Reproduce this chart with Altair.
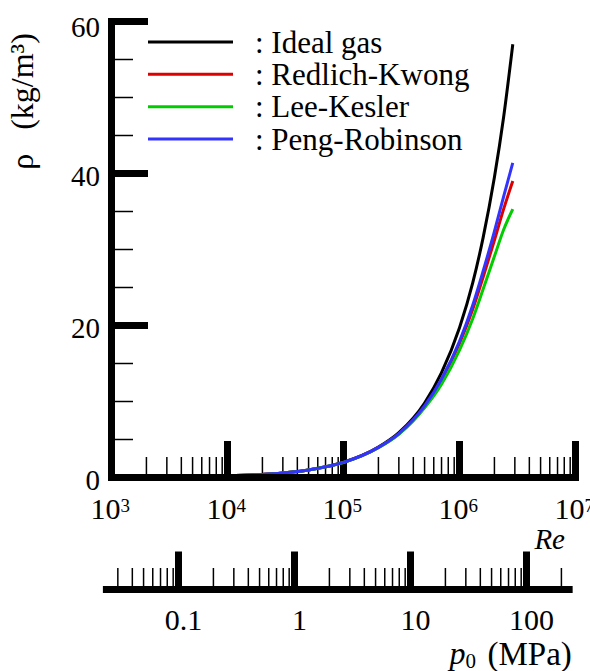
import altair as alt
import pandas as pd

# Reynolds numbers at which the density was sampled
re_samples = [1e4, 2e4, 5e4, 1e5, 2e5, 3e5, 5e5, 7e5, 1e6, 1.3e6, 1.6e6, 2e6, 2.4e6, 2.88e6]

# Density (kg/m^3) from each equation of state
rho_ideal = [0.2, 0.4, 1.0, 2.0, 4.0, 5.9, 9.8, 13.8, 19.7, 25.6, 31.6, 39.5, 47.4, 57.0]
rho_rk = [0.2, 0.4, 1.0, 1.99, 3.94, 5.75, 9.31, 12.83, 17.63, 22.14, 26.39, 31.21, 35.31, 39.0]
rho_lk = [0.2, 0.4, 1.0, 1.98, 3.92, 5.69, 9.16, 12.28, 16.75, 20.9, 24.8, 29.1, 32.6, 35.3]
rho_pr = [0.2, 0.4, 1.0, 1.99, 3.96, 5.78, 9.41, 12.97, 17.93, 22.66, 27.18, 32.39, 36.97, 41.4]

series_names = ["Ideal gas", "Redlich-Kwong", "Lee-Kesler", "Peng-Robinson"]
series_colors = ["#000000", "#dd0000", "#00cc00", "#3333ff"]

# Reynolds-number axis
re_major = [1e3, 1e4, 1e5, 1e6, 1e7]
re_exponent = ["3", "4", "5", "6", "7"]
re_minor = [m * 10.0 ** k for k in range(3, 7) for m in range(2, 10)]

# Density axis
rho_major = [0, 20, 40, 60]
rho_minor = [5, 10, 15, 25, 30, 35, 45, 50, 55]

# Supply-pressure axis (Re per MPa of p0)
RE_PER_MPA = 3.78e4
p_major = [0.1, 1, 10, 100]
p_major_text = ["0.1", "1", "10", "100"]
p_minor = [m * 10.0 ** k for k in range(-2, 2) for m in range(2, 10) if not (k == -2 and m < 3)] + [200]
p_line_ends = [0.0223, 250]

FONT = "Liberation Serif, Times New Roman, Times, serif"
W, H = 464, 456

x_re = alt.Scale(type="log", domain=[1e3, 1e7])
x_p = alt.Scale(type="log", domain=[1e3 / RE_PER_MPA, 1e7 / RE_PER_MPA])
y_rho = alt.Scale(domain=[0, 60])
color_scale = alt.Scale(domain=series_names, range=series_colors)

curves = pd.DataFrame(
    [
        {"Re": r, "rho": v, "series": name}
        for name, vals in zip(series_names, [rho_ideal, rho_rk, rho_lk, rho_pr])
        for r, v in zip(re_samples, vals)
    ]
)

lines = alt.Chart(curves).mark_line(strokeWidth=3, interpolate="monotone").encode(
    x=alt.X("Re:Q", scale=x_re, axis=None),
    y=alt.Y("rho:Q", scale=y_rho, axis=None),
    color=alt.Color("series:N", scale=color_scale, legend=None),
)

# Axis lines of the main plot
x_line = alt.Chart(pd.DataFrame({"Re": [re_major[0]], "Re2": [re_major[-1]], "rho": [0]})).mark_rule(
    strokeWidth=7, strokeCap="square", color="black"
).encode(
    x=alt.X("Re:Q", scale=x_re, axis=None), x2="Re2:Q", y=alt.Y("rho:Q", scale=y_rho, axis=None)
)
y_line = alt.Chart(pd.DataFrame({"Re": [re_major[0]], "rho": [0], "rho2": [60]})).mark_rule(
    strokeWidth=7, strokeCap="square", color="black"
).encode(
    x=alt.X("Re:Q", scale=x_re, axis=None), y=alt.Y("rho:Q", scale=y_rho, axis=None), y2="rho2:Q"
)

# Ticks pointing into the plot
re_major_df = pd.DataFrame({"Re": re_major, "base": ["10"] * len(re_major), "exp": re_exponent})
re_major_ticks = alt.Chart(re_major_df).mark_rule(strokeWidth=7, color="black").encode(
    x=alt.X("Re:Q", scale=x_re, axis=None), y=alt.value(H), y2=alt.value(H - 36.5)
)
re_minor_ticks = alt.Chart(pd.DataFrame({"Re": re_minor})).mark_rule(strokeWidth=1.5, color="black").encode(
    x=alt.X("Re:Q", scale=x_re, axis=None), y=alt.value(H), y2=alt.value(H - 20.5)
)
rho_major_df = pd.DataFrame({"rho": rho_major, "label": [str(v) for v in rho_major]})
rho_major_ticks = alt.Chart(rho_major_df).mark_rule(strokeWidth=7, color="black").encode(
    y=alt.Y("rho:Q", scale=y_rho, axis=None), x=alt.value(0), x2=alt.value(36.5)
)
rho_minor_ticks = alt.Chart(pd.DataFrame({"rho": rho_minor})).mark_rule(strokeWidth=1.5, color="black").encode(
    y=alt.Y("rho:Q", scale=y_rho, axis=None), x=alt.value(0), x2=alt.value(21.5)
)

# Tick labels (the top density label sits a little lower than the others)
def rho_label_layer(test, dy):
    return alt.Chart(rho_major_df).transform_filter(test).mark_text(
        align="right", baseline="middle", font=FONT, fontSize=29, dy=dy
    ).encode(
        y=alt.Y("rho:Q", scale=y_rho, axis=None),
        x=alt.value(-11.5),
        text="label:N",
    )

rho_labels = rho_label_layer("datum.rho < 60", 3)
rho_label_top = rho_label_layer("datum.rho == 60", 6)

re_base = alt.Chart(re_major_df).mark_text(
    align="right", baseline="alphabetic", font=FONT, fontSize=30, dx=9
).encode(x=alt.X("Re:Q", scale=x_re, axis=None), y=alt.value(H + 41.5), text="base:N")
re_exp = alt.Chart(re_major_df).mark_text(
    align="left", baseline="alphabetic", font=FONT, fontSize=19, dx=9
).encode(x=alt.X("Re:Q", scale=x_re, axis=None), y=alt.value(H + 34), text="exp:N")

# Secondary axis: supply pressure
P_Y = H + 112
p_line = alt.Chart(pd.DataFrame({"p": [p_line_ends[0]], "p2": [p_line_ends[1]]})).mark_rule(
    strokeWidth=7, color="black"
).encode(x=alt.X("p:Q", scale=x_p, axis=None), x2="p2:Q", y=alt.value(P_Y))
p_major_df = pd.DataFrame({"p": p_major, "label": p_major_text})
p_major_ticks = alt.Chart(p_major_df).mark_rule(strokeWidth=7, color="black").encode(
    x=alt.X("p:Q", scale=x_p, axis=None), y=alt.value(P_Y), y2=alt.value(P_Y - 38)
)
p_minor_ticks = alt.Chart(pd.DataFrame({"p": p_minor})).mark_rule(strokeWidth=1.5, color="black").encode(
    x=alt.X("p:Q", scale=x_p, axis=None), y=alt.value(P_Y), y2=alt.value(P_Y - 21.5)
)
p_labels = alt.Chart(p_major_df).mark_text(
    align="center", baseline="alphabetic", font=FONT, fontSize=30, dx=5
).encode(x=alt.X("p:Q", scale=x_p, axis=None), y=alt.value(P_Y + 40.5), text="label:N")

# Axis titles (non-breaking spaces keep the gap after rho)
one = pd.DataFrame({"t": ["ρ\u00a0\u00a0\u00a0(kg/m³)"]})
y_title = alt.Chart(one).mark_text(
    angle=270, align="center", baseline="middle", font=FONT, fontSize=32
).encode(x=alt.value(-88.5), y=alt.value(80), text="t:N")
re_title = alt.Chart(pd.DataFrame({"t": ["Re"]})).mark_text(
    align="right", baseline="alphabetic", font=FONT, fontSize=29, fontStyle="italic"
).encode(x=alt.value(453.5), y=alt.value(527.5), text="t:N")
p_title_p = alt.Chart(pd.DataFrame({"t": ["p"]})).mark_text(
    align="left", baseline="alphabetic", font=FONT, fontSize=32, fontStyle="italic"
).encode(x=alt.value(338), y=alt.value(642.5), text="t:N")
p_title_sub = alt.Chart(pd.DataFrame({"t": ["0"]})).mark_text(
    align="left", baseline="alphabetic", font=FONT, fontSize=21
).encode(x=alt.value(354), y=alt.value(646), text="t:N")
p_title_unit = alt.Chart(pd.DataFrame({"t": ["(MPa)"]})).mark_text(
    align="left", baseline="alphabetic", font=FONT, fontSize=33
).encode(x=alt.value(376), y=alt.value(643), text="t:N")

# Legend drawn as short line samples with labels
legend_df = pd.DataFrame({"series": series_names, "label": [": " + s for s in series_names]})
legend_y = alt.Scale(type="point", domain=series_names, range=[20.5, 117.5], padding=0)
legend_lines = alt.Chart(legend_df).mark_rule(strokeWidth=3).encode(
    x=alt.value(36.5), x2=alt.value(121.5),
    y=alt.Y("series:N", scale=legend_y, axis=None),
    color=alt.Color("series:N", scale=color_scale, legend=None),
)
legend_text = alt.Chart(legend_df).mark_text(
    align="left", baseline="alphabetic", font=FONT, fontSize=31, dy=10.5
).encode(
    x=alt.value(143.5),
    y=alt.Y("series:N", scale=legend_y, axis=None),
    text="label:N",
)

chart = alt.layer(
    re_minor_ticks, re_major_ticks, rho_minor_ticks, rho_major_ticks,
    lines, x_line, y_line,
    rho_labels, rho_label_top, re_base, re_exp,
    p_line, p_minor_ticks, p_major_ticks, p_labels,
    y_title, re_title, p_title_p, p_title_sub, p_title_unit,
    legend_lines, legend_text,
).resolve_scale(
    x="independent", y="independent", color="shared"
).properties(
    width=W, height=H,
    padding={"left": 111.5, "top": 21.5, "right": 14.5, "bottom": 193.5},
    autosize=alt.AutoSizeParams(type="none"),
).configure_view(stroke=None)

chart.save("out.html", embed_options={"renderer": "svg", "actions": False})
